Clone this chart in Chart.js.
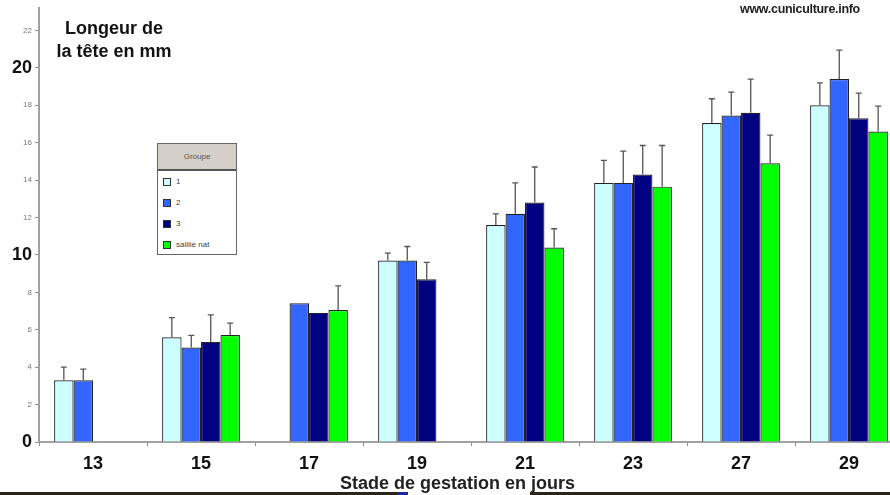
<!DOCTYPE html>
<html>
<head>
<meta charset="utf-8">
<script src="https://cdn.jsdelivr.net/npm/chart.js@4.4.1/dist/chart.umd.min.js"></script>
<style>
  html, body { margin: 0; padding: 0; background: #fff; overflow: hidden; }
  #wrap { position: relative; width: 905px; height: 495px; }
  #titre { position: absolute; left: 44px; top: 17px; width: 140px; text-align: center;
           font: bold 18px "Liberation Sans", Arial, sans-serif; line-height: 23px; color: #111; }
  #site { position: absolute; left: 740px; top: 2px; font: bold 12.5px "Liberation Sans", Arial, sans-serif;
          color: #222; letter-spacing: -0.3px; }
  #xtitre { position: absolute; left: 0; width: 915px; top: 473px; text-align: center;
            font: bold 18px "Liberation Sans", Arial, sans-serif; color: #222; }
  #legende { position: absolute; left: 157px; top: 143px; width: 78px; height: 110px;
             border: 1px solid #666; background: #fff; font: 8px "Liberation Sans", Arial, sans-serif; color: #444; }
  #legende .tete { height: 25px; line-height: 25px; text-align: center; background: #d4d0c8;
                   border-bottom: 2px solid #555; color: #555; }
  #legende .item { height: 21px; line-height: 21px; padding-left: 5px; white-space: nowrap; }
  #legende .carre { display: inline-block; width: 6px; height: 6px; border: 1px solid #333;
                    vertical-align: middle; margin-right: 5px; }
  .bande { position: absolute; top: 492px; height: 3px; }
</style>
</head>
<body>
<div id="wrap">
  <canvas id="chart" width="905" height="495"></canvas>
  <div id="titre">Longeur de<br>la tête en mm</div>
  <div id="site">www.cuniculture.info</div>
  <div id="xtitre">Stade de gestation en jours</div>
  <div id="legende"></div>
  <div class="bande" style="left:0;width:398px;background:#2b2419"></div>
  <div class="bande" style="left:398px;width:10px;background:#1a2a9a"></div>
  <div class="bande" style="left:530px;width:360px;background:#2b2419"></div>
</div>
<script>
var jours = ['13', '15', '17', '19', '21', '23', '27', '29'];
var groupes = ['1', '2', '3', 'saillie nat'];
var couleurs = ['#ccffff', '#3366ff', '#000080', '#00ff00'];

var g1 = [3.3, 5.6, null, 9.7, 11.6, 13.85, 17.05, 18.0];
var g1err = [0.7, 1.05, 0, 0.4, 0.6, 1.2, 1.3, 1.2];
var g2 = [3.3, 5.05, 7.42, 9.7, 12.2, 13.85, 17.45, 19.4];
var g2err = [0.6, 0.65, 0, 0.75, 1.65, 1.7, 1.25, 1.55];
var g3 = [null, 5.35, 6.9, 8.7, 12.8, 14.3, 17.6, 17.3];
var g3err = [0, 1.45, 0, 0.9, 1.9, 1.55, 1.8, 1.35];
var gNat = [null, 5.72, 7.05, null, 10.4, 13.65, 14.9, 16.6];
var gNatErr = [0, 0.63, 1.3, 0, 1.0, 2.2, 1.5, 1.35];

var valeurs = [g1, g2, g3, gNat];
var erreurs = [g1err, g2err, g3err, gNatErr];

var grosFont = { family: 'Liberation Sans, Arial', size: 18, weight: 'bold' };
var petitFont = { family: 'Liberation Sans, Arial', size: 8 };

function estGros(c) {
    return c && c.tick && c.tick.value % 10 === 0;
}

// error bars: only the upper half, with a small cap
var errorBars = {
    id: 'errorBars',
    afterDatasetsDraw: function (chart) {
        var ctx = chart.ctx, y = chart.scales.y;
        chart.data.datasets.forEach(function (ds, i) {
            var meta = chart.getDatasetMeta(i);
            meta.data.forEach(function (bar, j) {
                var v = ds.data[j], e = ds.errors[j];
                if (v == null || !e) return;
                var top = y.getPixelForValue(v + e);
                ctx.save();
                ctx.strokeStyle = '#555';
                ctx.lineWidth = 1.3;
                ctx.beginPath();
                ctx.moveTo(bar.x, bar.y);
                ctx.lineTo(bar.x, top);
                ctx.moveTo(bar.x - 3, top);
                ctx.lineTo(bar.x + 3, top);
                ctx.stroke();
                ctx.restore();
            });
        });
    }
};

var datasets = groupes.map(function (g, i) {
    return {
        label: g,
        data: valeurs[i],
        errors: erreurs[i],
        backgroundColor: couleurs[i],
        borderColor: '#222',
        borderWidth: 1.2,
        categoryPercentage: 0.72,
        barPercentage: 1.0
    };
});

var ctx = document.getElementById('chart').getContext('2d');
var chart = new Chart(ctx, {
    type: 'bar',
    data: { labels: jours, datasets: datasets },
    plugins: [errorBars],
    options: {
        responsive: false,
        animation: false,
        layout: { padding: { top: 8, right: 2, left: 0, bottom: 0 } },
        plugins: { legend: { display: false }, tooltip: { enabled: false } },
        scales: {
            x: {
                afterFit: function (s) { s.height = 53; },
                grid: { drawOnChartArea: false, tickLength: 4, color: '#888', offset: true },
                border: { color: '#a0a0a0', width: 2 },
                ticks: {
                    padding: 7,
                    color: '#111',
                    font: grosFont
                }
            },
            y: {
                min: 0,
                max: 23.2,
                afterFit: function (s) { s.width = 39; },
                grid: { drawOnChartArea: false, tickLength: 4, color: '#888' },
                border: { color: '#a0a0a0', width: 2 },
                ticks: {
                    stepSize: 2,
                    includeBounds: false,
                    padding: 3,
                    color: function (c) { return estGros(c) ? '#111' : '#777'; },
                    font: function (c) { return estGros(c) ? grosFont : petitFont; }
                }
            }
        }
    }
});

// legend box built from the datasets
var leg = document.getElementById('legende');
var html = '<div class="tete">Groupe</div>';
datasets.forEach(function (ds) {
    html += '<div class="item"><span class="carre" style="background:' + ds.backgroundColor + '"></span>' + ds.label + '</div>';
});
leg.innerHTML = html;
</script>
</body>
</html>
